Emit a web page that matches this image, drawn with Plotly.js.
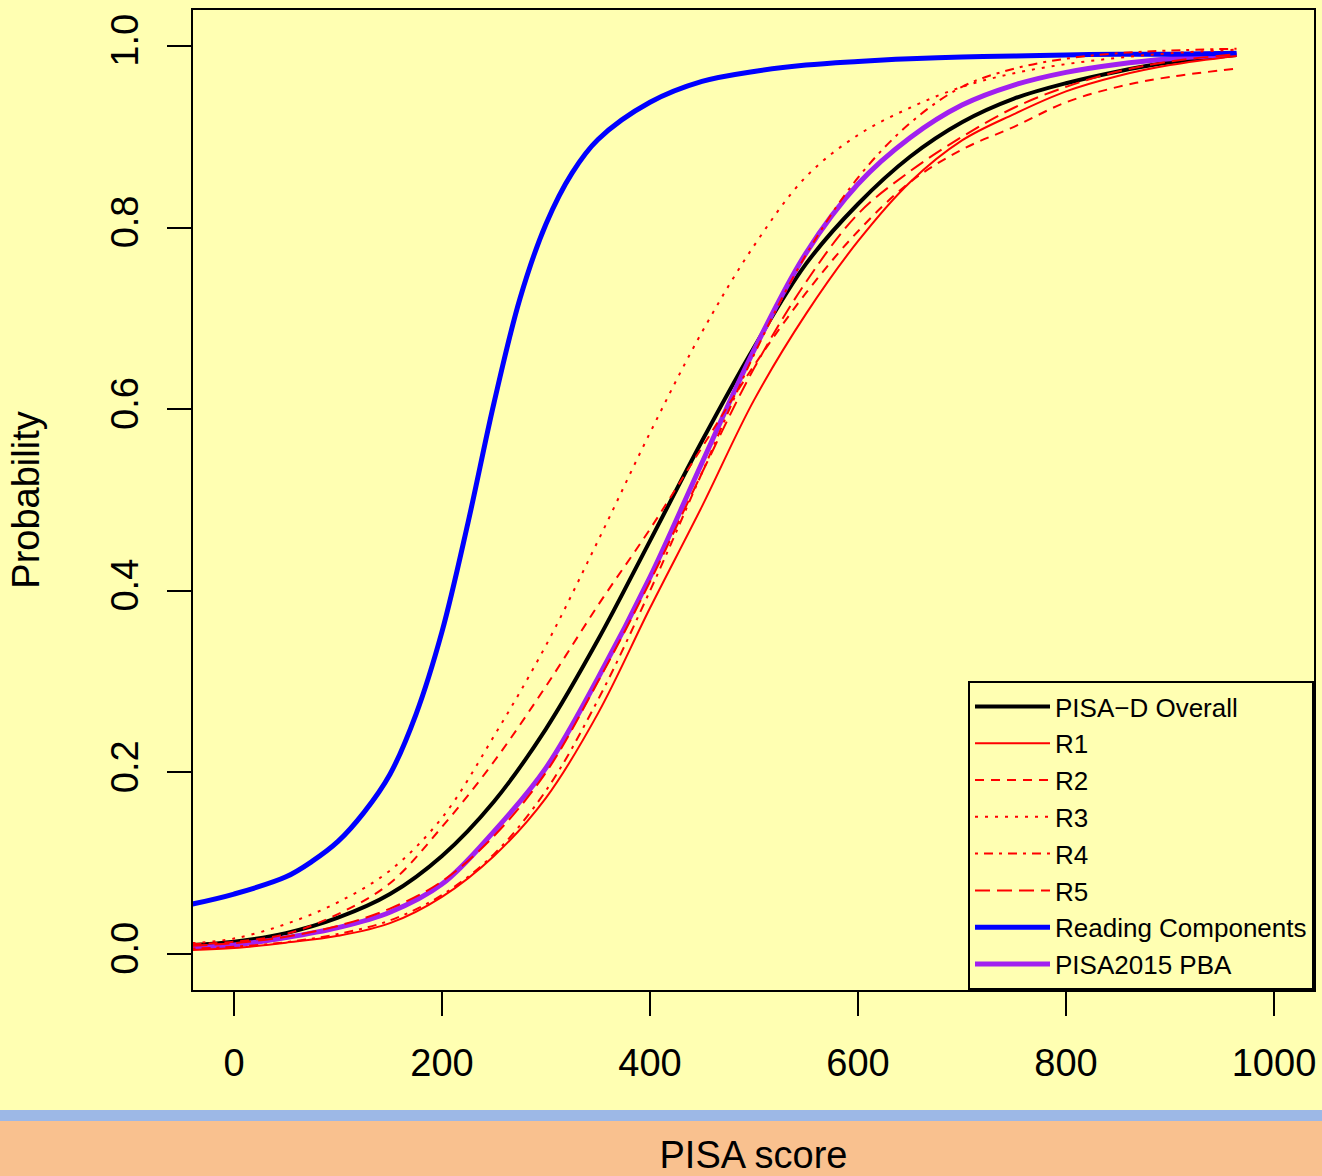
<!DOCTYPE html>
<html>
<head>
<meta charset="utf-8">
<script src="https://cdn.plot.ly/plotly-3.0.1.min.js"></script>
<style>
html,body{margin:0;padding:0;background:#FFFFB2;}
#chart{width:1322px;height:1176px;}
</style>
</head>
<body>
<div id="chart"></div>
<script>
// PISA score grid (shared by most curves)
const score = [-40, 0, 50, 100, 150, 200, 250, 300, 350, 400, 450, 500, 550, 600, 650, 700, 750, 800, 850, 900, 964];

// Probabilities
const pisaDOverall = [0.010, 0.0135, 0.023, 0.040, 0.066, 0.108, 0.168, 0.248, 0.346, 0.455, 0.565, 0.668, 0.760, 0.826, 0.878, 0.916, 0.942, 0.959, 0.972, 0.982, 0.990];
const r1 = [0.0044, 0.0066, 0.0125, 0.020, 0.034, 0.063, 0.108, 0.172, 0.265, 0.381, 0.493, 0.610, 0.705, 0.785, 0.850, 0.896, 0.925, 0.950, 0.967, 0.979, 0.989];
const r2 = [0.011, 0.0135, 0.022, 0.044, 0.078, 0.140, 0.212, 0.295, 0.384, 0.468, 0.558, 0.648, 0.728, 0.796, 0.850, 0.886, 0.911, 0.938, 0.955, 0.966, 0.975];
const r3 = [0.012, 0.017, 0.033, 0.057, 0.092, 0.150, 0.240, 0.340, 0.455, 0.574, 0.685, 0.780, 0.856, 0.902, 0.932, 0.955, 0.970, 0.980, 0.987, 0.992, 0.996];
const r4 = [0.006, 0.008, 0.013, 0.022, 0.037, 0.065, 0.110, 0.180, 0.280, 0.400, 0.530, 0.660, 0.770, 0.855, 0.915, 0.955, 0.975, 0.986, 0.992, 0.995, 0.997];
const r5 = [0.009, 0.012, 0.019, 0.031, 0.050, 0.080, 0.130, 0.200, 0.300, 0.410, 0.530, 0.645, 0.740, 0.815, 0.862, 0.900, 0.932, 0.955, 0.972, 0.983, 0.991];
const pisa2015PBA = [0.007, 0.0099, 0.018, 0.029, 0.046, 0.077, 0.135, 0.205, 0.304, 0.415, 0.541, 0.665, 0.772, 0.848, 0.899, 0.935, 0.957, 0.971, 0.980, 0.986, 0.991];

// Reading Components curve (finer grid in the steep part)
const rcScore = [-40, 0, 50, 75, 100, 125, 150, 175, 200, 225, 250, 275, 300, 325, 350, 400, 450, 500, 550, 600, 650, 700, 750, 800, 850, 900, 964];
const readingComponents = [0.055, 0.066, 0.085, 0.102, 0.124, 0.156, 0.198, 0.264, 0.355, 0.475, 0.607, 0.722, 0.804, 0.860, 0.897, 0.938, 0.961, 0.972, 0.979, 0.983, 0.986, 0.988, 0.989, 0.990, 0.991, 0.991, 0.992];

// Axis ticks
const xTicks = [0, 200, 400, 600, 800, 1000];
const yTicks = [0, 0.2, 0.4, 0.6, 0.8, 1.0];
const yTickText = ['0.0', '0.2', '0.4', '0.6', '0.8', '1.0'];

const FONT = 'Liberation Sans, Arial, Helvetica, sans-serif';
const YELLOW = '#FFFFB2';

function tr(x, y, name, color, width, dash, rank) {
  return {
    x: x, y: y, name: name, type: 'scatter', mode: 'lines',
    line: {color: color, width: width, dash: dash, shape: 'spline', smoothing: 1},
    legendrank: rank, hoverinfo: 'skip'
  };
}

const traces = [
  tr(score, pisaDOverall, 'PISA\u2212D Overall', '#000000', 4, 'solid', 1),
  tr(score, pisa2015PBA, 'PISA2015 PBA', '#A020F0', 5, 'solid', 8),
  tr(rcScore, readingComponents, 'Reading Components', '#0000FF', 5, 'solid', 7),
  tr(score, r1, 'R1', '#FF0000', 2, 'solid', 2),
  tr(score, r2, 'R2', '#FF0000', 2, '9px,7px', 3),
  tr(score, r3, 'R3', '#FF0000', 2, '3px,7px', 4),
  tr(score, r4, 'R4', '#FF0000', 2, '3px,6px,9px,6px', 5),
  tr(score, r5, 'R5', '#FF0000', 2, '15px,7px', 6)
];

const layout = {
  width: 1322, height: 1176,
  margin: {l: 193, r: 8, t: 10, b: 186, pad: 0},
  paper_bgcolor: YELLOW, plot_bgcolor: YELLOW,
  font: {family: FONT, color: '#000000', size: 38},
  showlegend: true,
  legend: {
    x: 1, xanchor: 'right', y: 0, yanchor: 'bottom',
    bgcolor: YELLOW, bordercolor: '#000000', borderwidth: 2,
    font: {family: FONT, size: 26, color: '#000000'},
    itemwidth: 75, tracegroupgap: 0, traceorder: 'normal'
  },
  xaxis: {
    range: [-39.42, 1038.46], tickvals: xTicks, ticktext: xTicks.map(String),
    ticks: 'outside', ticklen: 24, tickwidth: 2, tickcolor: '#000000',
    showline: true, linewidth: 2, linecolor: '#000000', mirror: true,
    showgrid: false, zeroline: false, fixedrange: true,
    ticklabelstandoff: 14,
    tickfont: {family: FONT, size: 38, color: '#000000'},
    title: {text: 'PISA score', font: {family: FONT, size: 38, color: '#000000'}, standoff: 68}
  },
  yaxis: {
    range: [-0.03965, 1.03965], tickvals: yTicks, ticktext: yTickText, tickangle: -90,
    ticks: 'outside', ticklen: 24, tickwidth: 2, tickcolor: '#000000',
    showline: true, linewidth: 2, linecolor: '#000000', mirror: true,
    showgrid: false, zeroline: false, fixedrange: true,
    ticklabelstandoff: 14,
    tickfont: {family: FONT, size: 38, color: '#000000'},
    title: {text: 'Probability', font: {family: FONT, size: 38, color: '#000000'}, standoff: 52}
  },
  shapes: [
    {type: 'rect', xref: 'paper', yref: 'paper', x0: -0.2, x1: 1.05, y0: -0.12245, y1: -0.13367,
     fillcolor: '#9DB8E6', line: {width: 0}, layer: 'below'},
    {type: 'rect', xref: 'paper', yref: 'paper', x0: -0.2, x1: 1.05, y0: -0.13367, y1: -0.21,
     fillcolor: '#F9C18F', line: {width: 0}, layer: 'below'}
  ]
};

Plotly.newPlot('chart', traces, layout, {displayModeBar: false, staticPlot: true});
</script>
</body>
</html>
